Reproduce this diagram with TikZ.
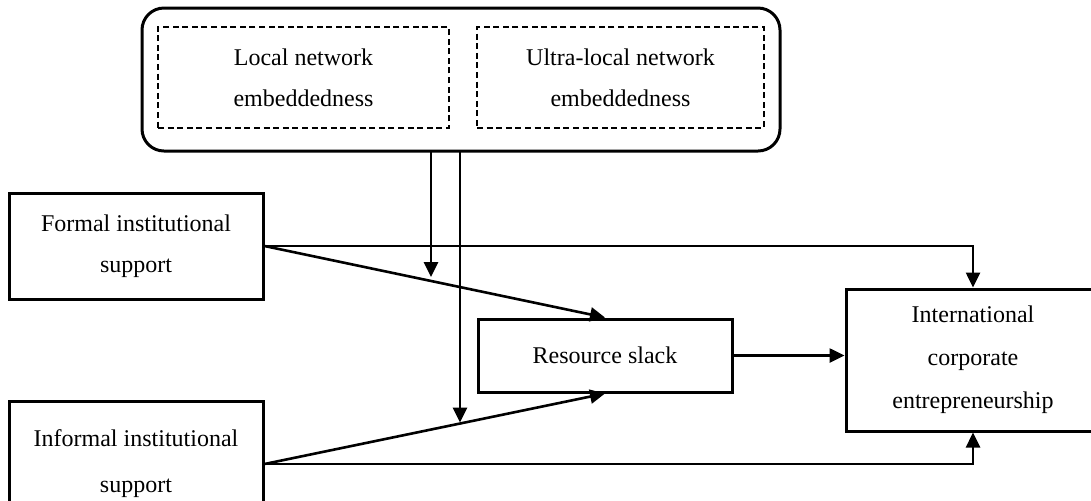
\documentclass[tikz,border=0pt]{standalone}
\usepackage{fontspec}
\setmainfont{Liberation Serif}
\usetikzlibrary{arrows.meta,calc}
\begin{document}
\begin{tikzpicture}[x=0.5pt,y=-0.5pt,
  txt/.style={font=\fontsize{12}{20.5}\selectfont,align=center,inner sep=0pt},
  box/.style={txt,draw,line width=1.5pt,minimum width=127pt},
  dbox/.style={txt,draw,line width=1.1pt,dash pattern=on 3pt off 1.8pt,minimum height=50.5pt},
  conn/.style={line width=1.3pt,-{Triangle[length=7.5pt,width=7pt]}}]
\useasboundingbox (0,0) rectangle (1091,500);
\node[draw,line width=1.5pt,rounded corners=11pt,minimum width=319pt,minimum height=71.5pt] (outer) at (461,79.5) {};
\node[dbox,minimum width=145.5pt] (local) at (303.5,77.5) {Local network\\embeddedness};
\node[dbox,minimum width=143.5pt] (ultra) at (620.5,77.5) {Ultra-local network\\embeddedness};
\node[box,minimum height=53pt] (formal) at (136,246) {Formal institutional\\support};
\node[box,minimum height=63pt,font=\fontsize{12}{23}\selectfont] (informal) at (136,464) {Informal institutional\\support};
\node[box,minimum height=36.5pt] (resource) at (605,355.5) {Resource slack};
\node[box,minimum height=71pt,font=\fontsize{12}{21.5}\selectfont] (intl) at (973,360) {International\\corporate\\entrepreneurship};
\coordinate (m1s) at (431,151);
\coordinate (m1e) at (431,277);
\coordinate (m2s) at (460,151);
\coordinate (m2e) at (460,422.5);
\draw[conn] (formal.east) -| (intl.north);
\draw[conn] (formal.east) -- (resource.north);
\draw[conn] (informal.east) -| (intl.south);
\draw[conn] (informal.east) -- (resource.south);
\draw[conn] (resource.east) -- (resource.east -| intl.west);
\draw[conn] (m1s) -- (m1e);
\draw[conn] (m2s) -- (m2e);
\end{tikzpicture}
\end{document}
